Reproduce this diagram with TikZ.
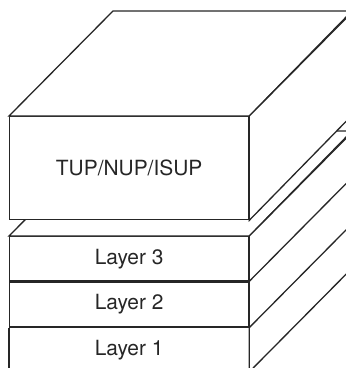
\documentclass[tikz,border=0pt]{standalone}
\usepackage{fontspec}
\setmainfont{TeX Gyre Heros}
\begin{document}
\begin{tikzpicture}[x=1bp, y=1bp, line width=1.3bp, line join=miter,
  color=black!85,
  face/.style={draw, fill=white},
  front/.style={draw, fill=white, rectangle, inner sep=0pt,
    minimum width=239bp, anchor=north west,
    font=\fontsize{21}{25}\selectfont}]
\useasboundingbox (0,0) rectangle (346,-368);
\clip (0,0) rectangle (346,-368);

% lower stack of layers
\node[front, minimum height=44bp] (l3) at (9,-236) {Layer 3};
\node[front, minimum height=45bp] (l2) at (l3.south west) {Layer 2};
\node[front, minimum height=43bp, draw=none] (l1) at (l2.south west) {Layer 1};
\draw (l1.north west) -- ++(0,-40);
\draw (l1.north east) -- ++(0,-40);
\draw[face] (l3.north west) -- ++(104,105) -- ++(239,0) -- (l3.north east) -- cycle;
\draw[face] (l3.north east) -- ++(104,105) -- ++(0,-240) -- ++(-104,-105) -- cycle;
\draw (l3.south east) -- ++(104,105);
\draw (l2.south east) -- ++(104,105);
\draw (l1.south east) -- ++(104,105);

% upper block
\node[front, minimum height=103bp] (tup) at (9,-116) {TUP/NUP/ISUP};
\draw[face] (tup.north west) -- ++(104,105) -- ++(239,0) -- (tup.north east) -- cycle;
\draw[face] (tup.north east) -- ++(104,105) -- ++(0,-103) -- (tup.south east) -- cycle;
\end{tikzpicture}
\end{document}
